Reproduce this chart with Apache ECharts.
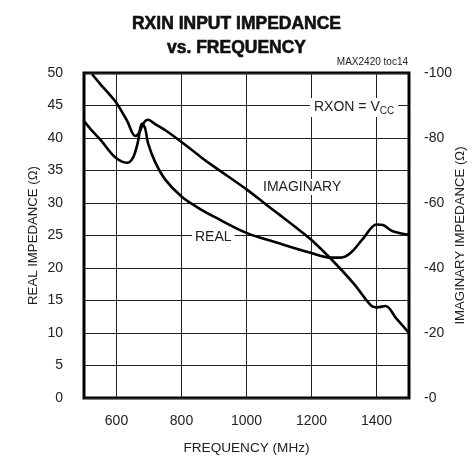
<!DOCTYPE html>
<html>
<head>
<meta charset="utf-8">
<script src="https://cdn.jsdelivr.net/npm/echarts@6/dist/echarts.min.js"></script>
<style>
  html, body { margin: 0; padding: 0; background: #fff; }
  #chart { width: 473px; height: 457px; }
</style>
</head>
<body>
<div id="chart"></div>
<script>
// frequency (MHz) / real impedance (ohm)
var realFreq = [500, 525, 551, 592, 615, 633, 650, 664, 679, 688, 697, 718, 750, 800, 850, 900, 1000, 1100, 1200, 1258, 1290, 1320, 1360, 1400, 1420, 1448, 1500];
var realVal = [42.6, 41.1, 39.7, 37.2, 36.4, 36.2, 36.9, 39.0, 42.2, 41.5, 39.2, 36.4, 33.6, 31.0, 29.3, 27.9, 25.4, 23.8, 22.3, 21.6, 21.6, 22.3, 24.6, 26.7, 26.6, 25.7, 25.1];

// imaginary impedance (ohm), right axis
var imagFreq = [525, 550, 575, 600, 633, 658, 670, 682, 697, 720, 756, 797, 828, 860, 900, 1000, 1063, 1100, 1166, 1200, 1258, 1330, 1382, 1402, 1428, 1460, 1500];
var imagVal = [-99.6, -96.6, -93.8, -90.8, -85.2, -80.6, -81.6, -84.4, -85.6, -84.2, -82.0, -79.0, -76.6, -74.1, -71.2, -64.2, -59.3, -56.5, -51.4, -48.6, -43.0, -35.2, -28.6, -27.9, -28.3, -24.6, -20.0];

var xLabels = [600, 800, 1000, 1200, 1400];

var FONT = '"Liberation Sans", Arial, sans-serif';
var INK = '#222';

function zip(xs, ys) {
  return xs.map(function (x, i) { return [x, ys[i]]; });
}

var chart = echarts.init(document.getElementById('chart'));

chart.setOption({
  animation: false,
  backgroundColor: '#fff',
  grid: {
    left: 84, top: 73, right: 64, bottom: 59,
    show: true, borderColor: '#000', borderWidth: 3,
    containLabel: false, outerBoundsMode: 'none'
  },
  xAxis: {
    type: 'value', min: 500, max: 1500, interval: 100,
    name: 'FREQUENCY (MHz)', nameLocation: 'middle', nameGap: 43, nameMoveOverlap: false,
    nameTextStyle: { fontFamily: FONT, fontSize: 13.6, color: INK },
    axisLine: { show: false }, axisTick: { show: false },
    axisLabel: {
      margin: 16, fontFamily: FONT, fontSize: 14, color: INK,
      formatter: function (v) { return xLabels.indexOf(v) >= 0 ? String(v) : ''; }
    },
    splitLine: { show: true, lineStyle: { color: ['rgba(0,0,0,0)', '#222'], width: 1 } }
  },
  yAxis: [{
    type: 'value', min: 0, max: 50, interval: 5, position: 'left',
    name: 'REAL IMPEDANCE (Ω)', nameLocation: 'middle', nameGap: 44, nameMoveOverlap: false,
    nameTextStyle: { fontFamily: FONT, fontSize: 13.2, color: INK },
    axisLine: { show: false }, axisTick: { show: false },
    axisLabel: { margin: 21, fontFamily: FONT, fontSize: 14, color: INK },
    splitLine: { show: true, lineStyle: { color: '#222', width: 1 } }
  }, {
    type: 'value', min: -100, max: 0, interval: 20, inverse: true, position: 'right',
    name: 'IMAGINARY IMPEDANCE (Ω)', nameLocation: 'middle', nameGap: 45, nameRotate: 90, nameMoveOverlap: false,
    nameTextStyle: { fontFamily: FONT, fontSize: 13.2, color: INK },
    axisLine: { show: false }, axisTick: { show: false },
    axisLabel: {
      margin: 15, fontFamily: FONT, fontSize: 14, color: INK,
      formatter: function (v) { return v === 0 ? '-0' : String(v); }
    },
    splitLine: { show: false }
  }],
  title: {
    text: 'RXIN INPUT IMPEDANCE\nvs. FREQUENCY',
    left: 'center', top: 7,
    textStyle: {
      fontFamily: FONT, fontWeight: 'bold', fontSize: 17.5, lineHeight: 24, color: '#111',
      textBorderColor: '#111', textBorderWidth: 0.6
    }
  },
  graphic: [
    { type: 'text', z: 100, right: 65, top: 57, style: { text: 'MAX2420 toc14', font: '10px ' + FONT, fill: INK } },
    {
      type: 'text', z: 100, left: 310, top: 98,
      style: {
        text: '{a|RXON = V}{b|CC}',
        backgroundColor: '#fff', padding: [1, 4],
        rich: {
          a: { fontFamily: FONT, fontSize: 14, fill: INK, lineHeight: 17 },
          b: { fontFamily: FONT, fontSize: 10, fill: INK, verticalAlign: 'bottom', lineHeight: 13 }
        }
      }
    },
    { type: 'text', z: 100, left: 260, top: 179, style: { text: 'IMAGINARY', font: '14px ' + FONT, fill: INK, backgroundColor: '#fff', padding: [1, 3] } },
    { type: 'text', z: 100, left: 192, top: 229, style: { text: 'REAL', font: '14px ' + FONT, fill: INK, backgroundColor: '#fff', padding: [1, 3] } }
  ],
  series: [{
    name: 'REAL', type: 'line', yAxisIndex: 0, smooth: 0.35, showSymbol: false,
    lineStyle: { color: '#000', width: 2.6 },
    data: zip(realFreq, realVal)
  }, {
    name: 'IMAGINARY', type: 'line', yAxisIndex: 1, smooth: 0.35, showSymbol: false,
    lineStyle: { color: '#000', width: 2.6 },
    data: zip(imagFreq, imagVal)
  }]
});
</script>
</body>
</html>
